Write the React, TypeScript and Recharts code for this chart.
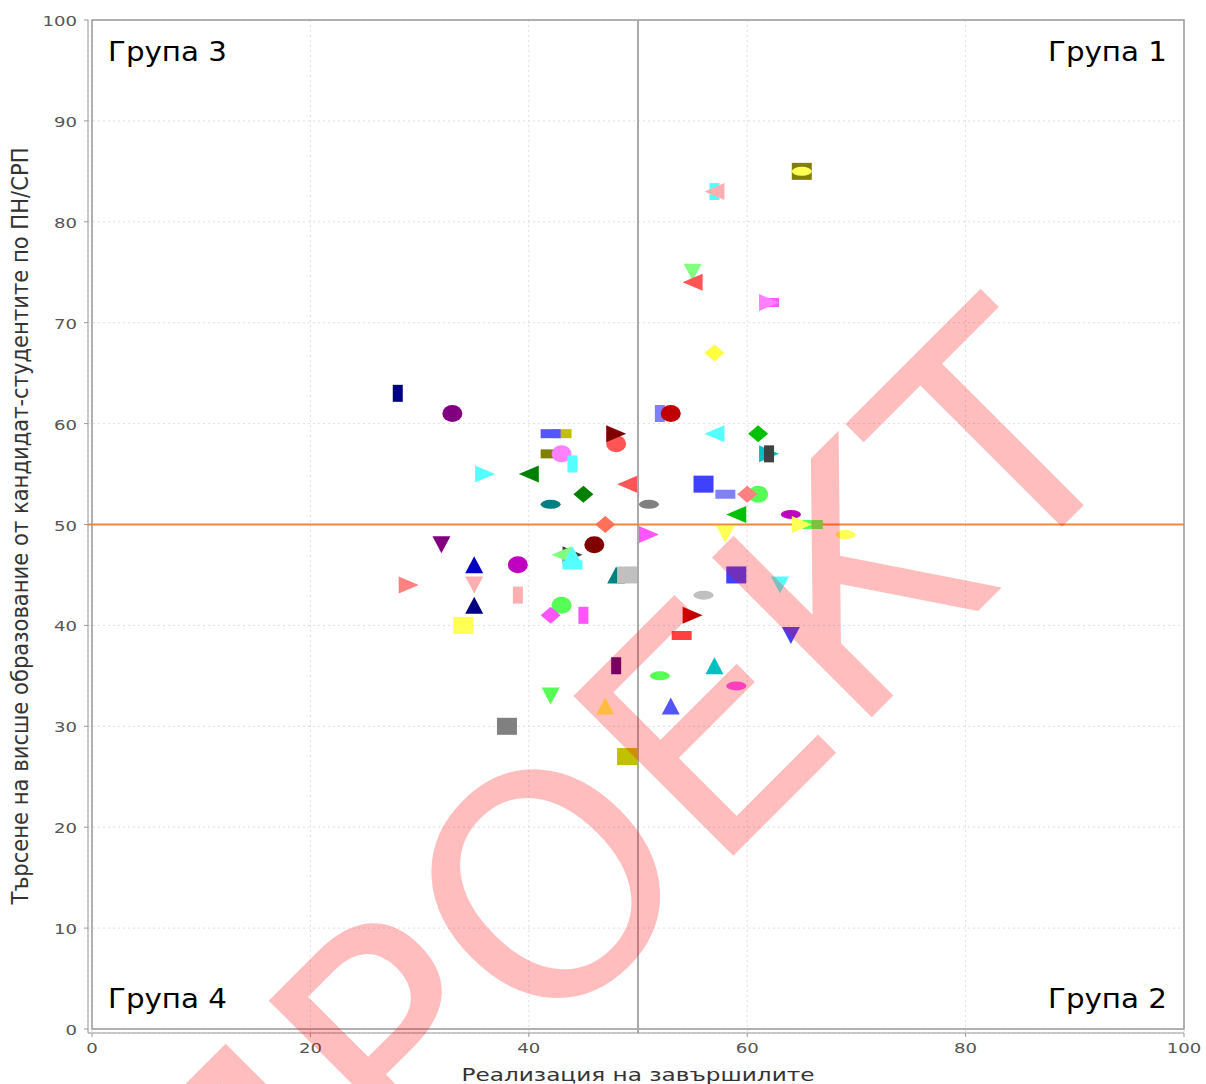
import React from "react";
import {
  ScatterChart,
  Scatter,
  XAxis,
  YAxis,
  CartesianGrid,
  ReferenceLine,
  ReferenceArea,
} from "recharts";

// Реализация на завършилите (x) / Търсене (y), one entry per specialty marker
const realization = [
  28, 33, 43, 42, 48, 48, 42, 43, 44, 36, 40, 45, 49, 42, 51, 47, 32, 46, 51,
  44, 43, 44, 44, 35, 39, 29, 35, 35, 39, 43, 42, 45, 34, 48, 49, 48, 42, 47,
  38, 49, 52, 53, 57, 61, 62, 62, 56, 58, 61, 60, 59, 64, 66, 65, 69, 58, 59,
  63, 56, 55, 54, 64, 57, 52, 59, 53, 65, 65, 57, 57, 55, 55, 62, 62, 57,
];
const demand = [
  63, 61, 59, 59, 58, 59, 57, 57, 56, 55, 55, 53, 54, 52, 52, 50, 48, 48, 49,
  47, 47, 47, 46, 46, 46, 44, 44, 42, 43, 42, 41, 41, 40, 45, 45, 36, 33, 32,
  30, 27, 61, 61, 59, 59, 57, 57, 54, 53, 53, 53, 51, 51, 50, 50, 49, 49, 45,
  44, 43, 41, 39, 39, 36, 35, 34, 32, 85, 85, 83, 83, 75, 74, 72, 72, 67,
];
const markerShapes = [
  "vrect", "circle", "hrect", "hrect", "circle", "right", "hrect", "circle", "vrect", "right",
  "left", "diamond", "left", "hellipse", "hellipse", "diamond", "down", "circle", "right",
  "right", "left", "up", "hrect", "up", "circle", "right", "down", "up", "vrect", "circle",
  "diamond", "vrect", "square", "up", "square", "vrect", "down", "up", "square", "square",
  "vrect", "circle", "left", "diamond", "right", "vrect", "square", "hrect", "circle", "diamond",
  "left", "hellipse", "hrect", "right", "hellipse", "down", "square", "down", "hellipse", "right",
  "hrect", "down", "up", "hellipse", "hellipse", "up", "square", "hellipse", "vrect", "left",
  "down", "left", "hrect", "right", "diamond",
];
const markerColors = [
  "#000080", "#800080", "#c0c000", "#5555ff", "#ff5555", "#800000", "#808000", "#ff80ff", "#55ffff", "#55ffff",
  "#008000", "#008000", "#ff5555", "#008080", "#808080", "#ff7058", "#800080", "#800000", "#ff55ff",
  "#404040", "#80ff80", "#55ffff", "#55ffff", "#0000c0", "#c000c0", "#ff8080", "#ffafaf", "#000080", "#ffafaf", "#55ff55",
  "#ff55ff", "#ff55ff", "#ffff55", "#008080", "#c0c0c0", "#4b0082", "#55ff55", "#ffff55", "#808080", "#c0c000",
  "#8080ff", "#c00000", "#55ffff", "#00c000", "#00c0c0", "#404040", "#4040ff", "#8080ff", "#55ff55", "#ff8080",
  "#00c000", "#c000c0", "#55ff55", "#ffff55", "#ffff55", "#ffff55", "#4040ff", "#55ffff", "#c0c0c0", "#c00000",
  "#ff4040", "#4040ff", "#00c0c0", "#55ff55", "#ff55ff", "#5555ff", "#808000", "#ffff55", "#55ffff", "#ffafaf",
  "#80ff80", "#ff5555", "#ff55ff", "#ff80ff", "#ffff40",
];

const xTicks = [0, 20, 40, 60, 80, 100];
const yTicks = [0, 10, 20, 30, 40, 50, 60, 70, 80, 90, 100];
const xTitle = "Реализация на завършилите";
const yTitle = "Търсене на висше образование от кандидат-студентите по ПН/СРП";
const watermark = "ПРОЕКТ";

const rows = realization.map((x, i) => ({
  x,
  y: demand[i],
  shape: markerShapes[i],
  color: markerColors[i],
}));

const FONT = "DejaVu Sans";
const HW = 10;
const HH = 8.5;

function Marker(props: any) {
  const { cx, cy, payload } = props;
  const fill = payload.color;
  switch (payload.shape) {
    case "square":
      return <rect x={cx - HW} y={cy - HH} width={HW * 2} height={HH * 2} fill={fill} />;
    case "circle":
      return <ellipse cx={cx} cy={cy} rx={HW} ry={HH} fill={fill} />;
    case "hellipse":
      return <ellipse cx={cx} cy={cy} rx={HW} ry={4.5} fill={fill} />;
    case "hrect":
      return <rect x={cx - HW} y={cy - 4.5} width={HW * 2} height={9} fill={fill} />;
    case "vrect":
      return <rect x={cx - 5} y={cy - HH} width={10} height={HH * 2} fill={fill} />;
    case "up":
      return <path d={`M${cx},${cy - HH}L${cx + 9},${cy + HH}L${cx - 9},${cy + HH}Z`} fill={fill} />;
    case "down":
      return <path d={`M${cx - 9},${cy - HH}L${cx + 9},${cy - HH}L${cx},${cy + HH}Z`} fill={fill} />;
    case "right":
      return <path d={`M${cx - HW},${cy - HH}L${cx + HW},${cy}L${cx - HW},${cy + HH}Z`} fill={fill} />;
    case "left":
      return <path d={`M${cx + HW},${cy - HH}L${cx - HW},${cy}L${cx + HW},${cy + HH}Z`} fill={fill} />;
    default:
      return <path d={`M${cx},${cy - HH}L${cx + HW},${cy}L${cx},${cy + HH}L${cx - HW},${cy}Z`} fill={fill} />;
  }
}

const XTick = ({ x, y, payload }: any) => {
  const s = String(payload.value);
  return (
    <text x={x} y={y + 14} textAnchor="middle" fontFamily={FONT} fontSize={14} fill="#555"
      textLength={s.length * 11.5} lengthAdjust="spacingAndGlyphs">
      {s}
    </text>
  );
};

const YTick = ({ x, y, payload }: any) => {
  const s = String(payload.value);
  return (
    <text x={x - 5} y={y + 6} textAnchor="end" fontFamily={FONT} fontSize={14} fill="#555"
      textLength={s.length * 11.5} lengthAdjust="spacingAndGlyphs">
      {s}
    </text>
  );
};

const quadLabel = (text: string, side: "left" | "right", top: boolean) => (p: any) => {
  const vb = p.viewBox;
  const x = side === "left" ? vb.x + 16 : vb.x + vb.width - 17;
  const y = top ? vb.y + 41 : vb.y + vb.height - 21;
  return (
    <text x={x} y={y} textAnchor={side === "left" ? "start" : "end"} fontFamily={FONT} fontSize={27}
      fill="#000" textLength={119} lengthAdjust="spacingAndGlyphs">
      {text}
    </text>
  );
};

export default function App() {
  return (
    <div style={{ position: "absolute", left: 0, top: 0, width: 1206, height: 1084, background: "#fff" }}>
      <ScatterChart width={1206} height={1084} margin={{ top: 20, right: 22, bottom: 0, left: 0 }}>
        <CartesianGrid stroke="#dedede" strokeDasharray="2 3" />
        <XAxis
          type="number"
          dataKey="x"
          domain={[0, 100]}
          ticks={xTicks}
          padding={{ left: 4, right: 0 }}
          height={51}
          stroke="#999"
          tickSize={4}
          tick={<XTick />}
          label={(p: any) => (
            <text x={638} y={1081} textAnchor="middle" fontFamily={FONT} fontSize={17} fill="#333"
              textLength={353} lengthAdjust="spacingAndGlyphs">
              {xTitle}
            </text>
          )}
        />
        <YAxis
          type="number"
          dataKey="y"
          domain={[0, 100]}
          ticks={yTicks}
          padding={{ top: 0, bottom: 4 }}
          width={88}
          stroke="#999"
          tickSize={4}
          tick={<YTick />}
          label={(p: any) => (
            <text transform="translate(28 526) scale(1.3 1) rotate(-90)" textAnchor="middle"
              fontFamily={FONT} fontSize={17} fill="#333" textLength={757} lengthAdjust="spacingAndGlyphs">
              {yTitle}
            </text>
          )}
        />
        <ReferenceArea x1={0} x2={100} y1={0} y2={100} fill="none" stroke="#999" strokeWidth={1.5} />
        <ReferenceArea x1={0} x2={50} y1={50} y2={100} fill="none" stroke="none" label={quadLabel("Група 3", "left", true)} />
        <ReferenceArea x1={50} x2={100} y1={50} y2={100} fill="none" stroke="none" label={quadLabel("Група 1", "right", true)} />
        <ReferenceArea x1={0} x2={50} y1={0} y2={50} fill="none" stroke="none" label={quadLabel("Група 4", "left", false)} />
        <ReferenceArea x1={50} x2={100} y1={0} y2={50} fill="none" stroke="none" label={quadLabel("Група 2", "right", false)} />
        <ReferenceLine x={50} stroke="#aaa" strokeWidth={2} />
        <ReferenceLine y={50} stroke="#f0883a" strokeWidth={2} />
        <Scatter data={rows} shape={Marker} isAnimationActive={false} />
      </ScatterChart>
      <svg width={1206} height={1084} style={{ position: "absolute", left: 0, top: 0, pointerEvents: "none" }}>
        <text x={691} y={898} transform="rotate(-45 691 898)" textAnchor="middle" fontFamily={FONT}
          fontSize={310} fill="rgba(255,0,0,0.26)">
          {watermark}
        </text>
      </svg>
    </div>
  );
}
